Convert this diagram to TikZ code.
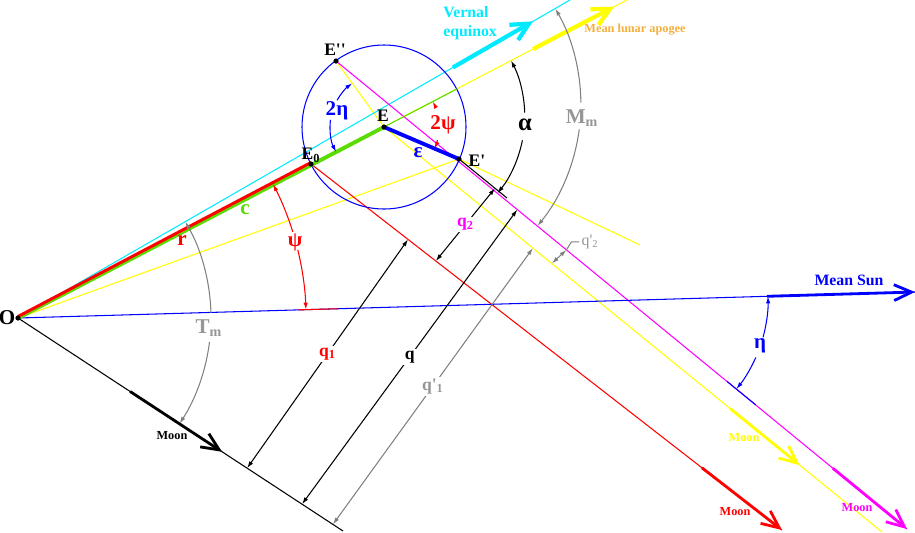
\documentclass[tikz,border=0pt]{standalone}
\usepackage{fontspec}
\setmainfont{Liberation Serif}
\usetikzlibrary{arrows.meta}
\usetikzlibrary{calc}
\definecolor{vernal}{RGB}{0,235,255}
\definecolor{apogee}{RGB}{255,255,0}
\definecolor{apogeetext}{RGB}{245,175,60}
\definecolor{cgreen}{RGB}{90,220,0}
\definecolor{moonmag}{RGB}{255,0,255}
\definecolor{dimgray}{RGB}{128,128,128}
\definecolor{tmgray}{RGB}{150,150,150}
\newcommand{\pr}{\textquotesingle}

\begin{document}
\begin{tikzpicture}[x=0.02cm,y=-0.02cm,line width=0.6pt,
    every node/.style={font=\bfseries\fontsize{10}{12}\selectfont,inner sep=1pt},
    moonarrow/.style={line width=1.6pt,-{Straight Barb[length=10pt,width=9pt]}},
    widearrow/.style={line width=2.4pt,-{Straight Barb[length=10pt,width=10pt]}},
    dimline/.style={{Latex[length=4pt,width=2.5pt]}-{Latex[length=4pt,width=2.5pt]}},
    arcstart/.style={{Latex[length=4pt,width=2.5pt]}-},
    arcend/.style={-{Latex[length=4pt,width=2.5pt]}},
    smalllabel/.style={font=\bfseries\fontsize{7}{8}\selectfont},
    biglabel/.style={font=\bfseries\fontsize{9}{11}\selectfont},
    greek/.style={font=\bfseries\fontsize{12}{12}\selectfont}]
    \useasboundingbox (0,0) rectangle (915,532);

    % points
    \coordinate (O) at (18,318);
    \coordinate (E0) at (311,164);
    \coordinate (E) at (384,127);
    \coordinate (E1) at (459,159);
    \coordinate (E2) at (336,61);
    % ends of the lines
    \coordinate (vernal) at (570,0);
    \coordinate (apogee) at (627,0);
    \coordinate (sun) at (915,292);
    \coordinate (moonO) at (343,531);
    \coordinate (moonR) at (782,530);
    \coordinate (moonY) at (882,532);
    \coordinate (moonM) at (907,529);
    \coordinate (yend) at (640,245);
    \coordinate (E1end) at ($(E1)+(48,39)$);
    \coordinate (alphaC) at (intersection of O--apogee and E2--moonM);
    \coordinate (MmC) at (intersection of O--vernal and E2--moonM);
    \coordinate (etaC) at (intersection of O--sun and E2--moonM);

    \draw[apogee] (O) -- (apogee);
    \draw[apogee] (O) -- (E1) -- (yend);
    \draw[apogee] (E2) -- (E) -- (moonY);
    \draw[vernal] (O) -- (vernal);
    \draw[moonmag] (E2) -- (moonM);
    \draw[red] (E0) -- (moonR);
    \draw (O) -- (moonO);
    \draw (E1) -- (E1end);
    \draw[blue] (O) -- (sun);
    \draw[blue] (E) circle[radius=82];
    \draw[cgreen] (O) -- ($(O)!1.199!(E)$);
    \draw[cgreen,line width=2.2pt] (O) -- (E);
    \draw[red,line width=1.7pt] ($(O)+(0,-1.5)$) -- ($(E0)+(0,-1.5)$);
    \draw[blue,line width=2.2pt] (E) -- (E1);

    % big arrows
    \draw[widearrow,vernal] ($(O)!0.788!(vernal)$) -- ($(O)!0.933!(vernal)$);
    \draw[widearrow,apogee] ($(O)!0.846!(apogee)$) -- ($(O)!0.979!(apogee)$);
    \draw[moonarrow,blue] ($(O)!0.835!(sun)$) -- (sun);
    \draw[moonarrow] ($(O)!0.345!(moonO)$) -- ($(O)!0.628!(moonO)$);
    \draw[moonarrow,red] ($(E0)!0.83!(moonR)$) -- (moonR);
    \draw[moonarrow,apogee] ($(E)!0.695!(moonY)$) -- ($(E)!0.835!(moonY)$);
    \draw[moonarrow,moonmag] ($(E2)!0.87!(moonM)$) -- (moonM);

    % distances
    \draw[dimline] ($(O)!0.705!(moonO)$) -- node[fill=white,text=red] (q1) {q\textsubscript{1}} ($(E0)!0.206!(moonR)$);
    \draw[dimline] ($(O)!0.874!(moonO)$) -- node[fill=white] (q) {q} ($(E2)!0.3175!(moonM)$);
    \draw[dimline,dimgray] ($(O)!0.969!(moonO)$) -- node[fill=white,text=tmgray] (qp1) {q\pr\textsubscript{1}} ($(E)!0.299!(moonY)$);
    \draw[dimline] ($(E0)!0.265!(moonR)$) -- node[fill=white,text=moonmag] (q2) {q\textsubscript{2}} ($(E1)!0.75!(E1end)$);
    \draw[dimline,dimgray] ($(E)!0.337!(moonY)$) -- ($(E2)!0.4035!(moonM)$);
    \draw[dimgray] ($(E2)!0.4035!(moonM)$) -- ++(5,-8) -- ++(8,0)
        node[right,text=tmgray,font=\fontsize{9}{10}\selectfont] (qp2) {q\pr\textsubscript{2}};

    % angles
    \draw[dimgray,arcstart] ($(O)+(-29.9:193)$) arc[start angle=-29.9,end angle=-1.5,radius=193];
    \draw[dimgray,arcend] ($(O)+(7.2:193)$) arc[start angle=7.2,end angle=33.2,radius=193];
    \draw[red,arcstart] ($(O)+(-27.7:288)$) arc[start angle=-27.7,end angle=-17.4,radius=288];
    \draw[red,arcend] ($(O)+(-13.7:288)$) arc[start angle=-13.7,end angle=-1.66,radius=288];
    \draw[red] ($(O)!0.312!(sun)$) -- ($(O)!0.357!(sun)$);
    \draw[blue,arcstart] ($(E)+(152.5:54)$) arc[start angle=152.5,end angle=187.7,radius=54];
    \draw[blue,arcend] ($(E)+(209.6:54)$) arc[start angle=209.6,end angle=234,radius=54];
    \draw[red,arcstart] ($(E)+(-27.5:55)$) arc[start angle=-27.5,end angle=-20.4,radius=55];
    \draw[red,arcend] ($(E)+(13.8:55)$) arc[start angle=13.8,end angle=23.1,radius=55];
    \draw[arcstart] ($(alphaC)+(-27.6:121)$) arc[start angle=-27.6,end angle=-1.9,radius=121];
    \draw[arcend] ($(alphaC)+(11.3:121)$) arc[start angle=11.3,end angle=39.3,radius=121];
    \draw[dimgray,arcstart] ($(MmC)+(-29.9:192)$) arc[start angle=-29.9,end angle=-0.5,radius=192];
    \draw[dimgray,arcend] ($(MmC)+(7.5:192)$) arc[start angle=7.5,end angle=39.3,radius=192];
    \draw[blue,arcstart] ($(etaC)+(-1.66:140)$) arc[start angle=-1.66,end angle=15.3,radius=140];
    \draw[blue,arcend] ($(etaC)+(24.1:140)$) arc[start angle=24.1,end angle=39.3,radius=140];
    \draw[blue] ($(etaC)+(39.3:128)$) -- ($(etaC)+(39.3:165)$);

    \foreach \p in {O,E0,E,E1,E2} \fill (\p) circle[radius=2.6];

    % labels
    \node[font=\bfseries\fontsize{12}{12}\selectfont] (Olab) at (7,318) {O};
    \node (E0lab) at (311,155) {E\textsubscript{0}};
    \node (Elab) at (383,116) {E};
    \node (E1lab) at (477,161) {E\pr};
    \node (E2lab) at (335,50) {E\pr\pr};
    \node[greek,text=blue] (epslab) at (418,153) {ε};
    \node[greek,text=cgreen] (clab) at (245,210) {c};
    \node[greek,text=red] (rlab) at (182,240) {r};
    \node[greek,text=red] (psilab) at (295,242) {ψ};
    \node[greek,text=blue] (eta2lab) at (337,111) {2η};
    \node[greek,text=red] (psi2lab) at (443,125) {2ψ};
    \node[greek,font=\bfseries\fontsize{14}{14}\selectfont] (alphalab) at (525,125) {α};
    \node[greek,text=blue] (etalab) at (760,346) {η};
    \node[greek,text=tmgray] (Tmlab) at (209,328) {T\textsubscript{m}};
    \node[greek,text=tmgray] (Mmlab) at (582,118) {M\textsubscript{m}};
    \node[biglabel,text=vernal,align=left,anchor=west] (vernallab) at (441,23) {Vernal\\equinox};
    \node[smalllabel,text=apogeetext] (apogeelab) at (635,30) {Mean lunar apogee};
    \node[biglabel,text=blue] (sunlab) at (849,280) {Mean Sun};
    \node[smalllabel] (moonOlab) at (172,436) {Moon};
    \node[smalllabel,text=red] (moonRlab) at (735,512) {Moon};
    \node[smalllabel,text=apogee] (moonYlab) at (744,438) {Moon};
    \node[smalllabel,text=moonmag] (moonMlab) at (857,508) {Moon};
\end{tikzpicture}
\end{document}
